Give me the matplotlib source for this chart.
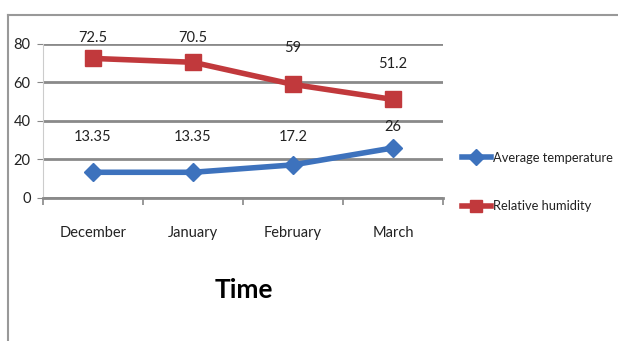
import matplotlib
import numpy as np

matplotlib.use("Agg")
import matplotlib.pyplot as plt

months = ["December", "January", "February", "March"]
avg_temp = [13.35, 13.35, 17.2, 26]
humidity = [72.5, 70.5, 59, 51.2]
y_ticks = [0, 20, 40, 60, 80]

plt.rcParams["font.family"] = ["Lato", "DejaVu Sans"]

fig = plt.figure(figsize=(6.18, 3.41), dpi=100)
ax = fig.add_axes([0.0696, 0.4194, 0.6472, 0.4516])

x = np.arange(len(months))
blue = "#3d72bd"
red = "#c1393c"

ax.plot(x, avg_temp, color=blue, lw=4, marker="D", ms=9, label="Average temperature", zorder=3)
ax.plot(x, humidity, color=red, lw=4, marker="s", ms=11, label="Relative humidity", zorder=3)

# label offsets in pixels (Excel puts them a bit unevenly)
temp_off = [35, 35, 28, 21]
hum_off = [20, 24, 36, 35]
for i in range(len(months)):
    ax.annotate(f"{avg_temp[i]:g}", (x[i], avg_temp[i]), xytext=(0, temp_off[i]),
                textcoords="offset pixels", ha="center", va="center", fontsize=10.5, color="#222222")
    ax.annotate(f"{humidity[i]:g}", (x[i], humidity[i]), xytext=(0, hum_off[i]),
                textcoords="offset pixels", ha="center", va="center", fontsize=10.5, color="#222222")

ax.set_xlim(-0.5, len(months) - 0.5)
ax.set_ylim(0, 80)
ax.set_yticks(y_ticks)
ax.set_xticks(x)
ax.set_xticklabels(months)
ax.set_xticks(np.arange(-0.5, len(months)), minor=True)
ax.tick_params(axis="x", which="major", length=0, pad=20, labelsize=10.5, labelcolor="#222222")
ax.tick_params(axis="x", which="minor", length=5, color="#888888", width=1.2)
ax.tick_params(axis="y", length=4, color="#888888", labelsize=10.5, pad=5, labelcolor="#222222")
ax.grid(axis="y", color="#8a8a8a", lw=2)
for s in ["top", "right"]:
    ax.spines[s].set_visible(False)
ax.spines["left"].set_color("#cccccc")
ax.spines["bottom"].set_color("#8a8a8a")
ax.spines["bottom"].set_linewidth(2)
ax.set_axisbelow(True)

fig.text(0.394, 0.15, "Time", fontsize=19, fontweight="bold", ha="center", va="center")

fig.legend(loc="center left", bbox_to_anchor=(0.748, 0.466), frameon=False, fontsize=9.3,
           handlelength=2.2, labelspacing=2.8, handletextpad=0.15, borderpad=0, borderaxespad=0,
           labelcolor="#222222", markerscale=0.85)

# outer frame of the chart area
fig.add_artist(plt.Line2D([0.013, 1], [0.956, 0.956], color="#999999", lw=1.5))
fig.add_artist(plt.Line2D([0.013, 0.013], [0, 0.956], color="#999999", lw=1.5))

fig.savefig("out.png", dpi=100)
